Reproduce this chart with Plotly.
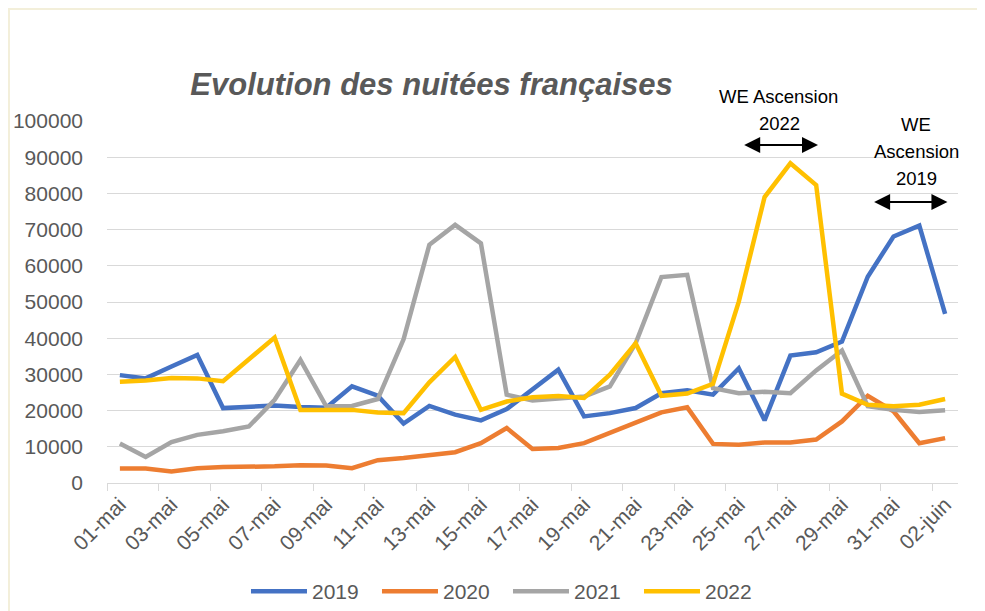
import plotly.graph_objects as go

days = ["01-mai", "02-mai", "03-mai", "04-mai", "05-mai", "06-mai", "07-mai", "08-mai",
        "09-mai", "10-mai", "11-mai", "12-mai", "13-mai", "14-mai", "15-mai", "16-mai",
        "17-mai", "18-mai", "19-mai", "20-mai", "21-mai", "22-mai", "23-mai", "24-mai",
        "25-mai", "26-mai", "27-mai", "28-mai", "29-mai", "30-mai", "31-mai", "01-juin",
        "02-juin"]

y2019 = [29800, 28900, 32200, 35400, 20700, 21000, 21400, 21000, 20800, 26700, 24100,
         16400, 21300, 18900, 17300, 20400, 25800, 31300, 18400, 19300, 20700, 24800,
         25600, 24400, 31700, 17300, 35200, 36100, 39100, 57000, 68100, 71100, 46700]
y2020 = [4000, 4000, 3200, 4100, 4400, 4400, 4600, 4900, 4800, 4100, 6300, 6900, 7700,
         8500, 11000, 15200, 9400, 9700, 11000, 14000, 16700, 19500, 20900, 10800, 10600,
         11200, 11200, 12000, 17000, 24100, 19800, 11000, 12400]
y2021 = [10900, 7200, 11300, 13300, 14300, 15600, 23000, 34000, 21200, 21300, 23200,
         39700, 65800, 71300, 66200, 24400, 22800, 23200, 23900, 26700, 38600, 56900,
         57500, 26200, 24800, 25200, 24800, 31100, 36600, 21200, 20200, 19600, 20100]
y2022 = [28000, 28300, 29000, 28900, 28100, 34000, 40200, 20200, 20100, 20200, 19500,
         19300, 27800, 34800, 20200, 22500, 23700, 24000, 23500, 29900, 38600, 24100,
         24700, 27400, 50100, 79000, 88300, 82300, 24700, 21600, 21200, 21600, 23200]

series = [("2019", y2019, "#4472C4"), ("2020", y2020, "#ED7D31"),
          ("2021", y2021, "#A5A5A5"), ("2022", y2022, "#FFC000")]

FONT = "Liberation Sans"
GREY = "#595959"

fig = go.Figure()
for name, vals, col in series:
    fig.add_trace(go.Scatter(x=days, y=vals, name=name, mode="lines",
                             line=dict(color=col, width=4.5)))

fig.update_layout(
    template="none",
    width=985, height=611,
    margin=dict(l=99, r=35, t=113, b=136, autoexpand=False),
    paper_bgcolor="white", plot_bgcolor="white",
    font=dict(family=FONT, color=GREY, size=21),
    title=dict(text="Evolution des nuitées françaises", xref="container", yref="container",
               x=0.430, xanchor="center", y=1 - 76 / 611, yanchor="middle",
               font=dict(family=FONT, size=31, color=GREY, weight="bold", style="italic")),
    showlegend=True,
    legend=dict(orientation="h", x=0.4712, xanchor="center", y=-0.30, yanchor="middle",
                font=dict(size=21, color=GREY), itemwidth=56, entrywidth=60,
                bgcolor="rgba(0,0,0,0)"),
)

fig.update_xaxes(type="category", range=[-0.5, 32.5], tickmode="linear", tick0=0, dtick=2,
                 tickangle=-45, tickson="boundaries", ticks="outside", ticklen=7,
                 tickcolor="#D9D9D9", tickwidth=1.3, showline=True, linecolor="#D9D9D9",
                 linewidth=1.3, showgrid=False, automargin=False,
                 tickfont=dict(size=21, color=GREY))
fig.update_yaxes(range=[0, 100000], dtick=10000, tickformat="d", showgrid=True,
                 gridcolor="#D9D9D9", gridwidth=1.3, zeroline=False, showline=False,
                 ticks="", ticklabelstandoff=23, automargin=False,
                 tickfont=dict(size=21, color=GREY))

# white text box behind "WE Ascension 2019" hides gridlines
fig.add_shape(type="rect", xref="paper", yref="paper", x0=0.871, x1=1.0, y0=0.823, y1=1.044,
              fillcolor="white", line=dict(width=0), layer="between")
# outer chart border
fig.add_shape(type="rect", xref="paper", yref="paper", x0=-0.1152, x1=1.0247, y0=-0.6, y1=1.3094,
              fillcolor="rgba(0,0,0,0)", line=dict(color="#F3EFDA", width=2), layer="above")

ann_font = dict(family=FONT, size=18.5, color="black")
# (text, x category index, y in paper units)
labels = [("WE Ascension", 25.52, (483 - 97) / 362), ("2022", 25.56, (483 - 123) / 362),
          ("WE", 30.89, (483 - 125) / 362), ("Ascension", 30.89, (483 - 151) / 362),
          ("2019", 30.89, (483 - 178) / 362)]
for txt, xx, yy in labels:
    fig.add_annotation(x=xx, y=yy, xref="x", yref="paper", text=txt, showarrow=False,
                       font=ann_font, xanchor="center", yanchor="middle")

arrows = [(24.15, 27.07, 93400), (29.19, 32.09, 77600)]
for x0, x1, yy in arrows:
    fig.add_annotation(x=x1, y=yy, ax=x0, ay=yy, xref="x", yref="y", axref="x", ayref="y",
                       text="", showarrow=True, arrowhead=2, startarrowhead=2,
                       arrowside="end+start", arrowsize=1.6, startarrowsize=1.6,
                       arrowwidth=2, arrowcolor="black", standoff=0, startstandoff=0)

fig.write_html("out.html")
